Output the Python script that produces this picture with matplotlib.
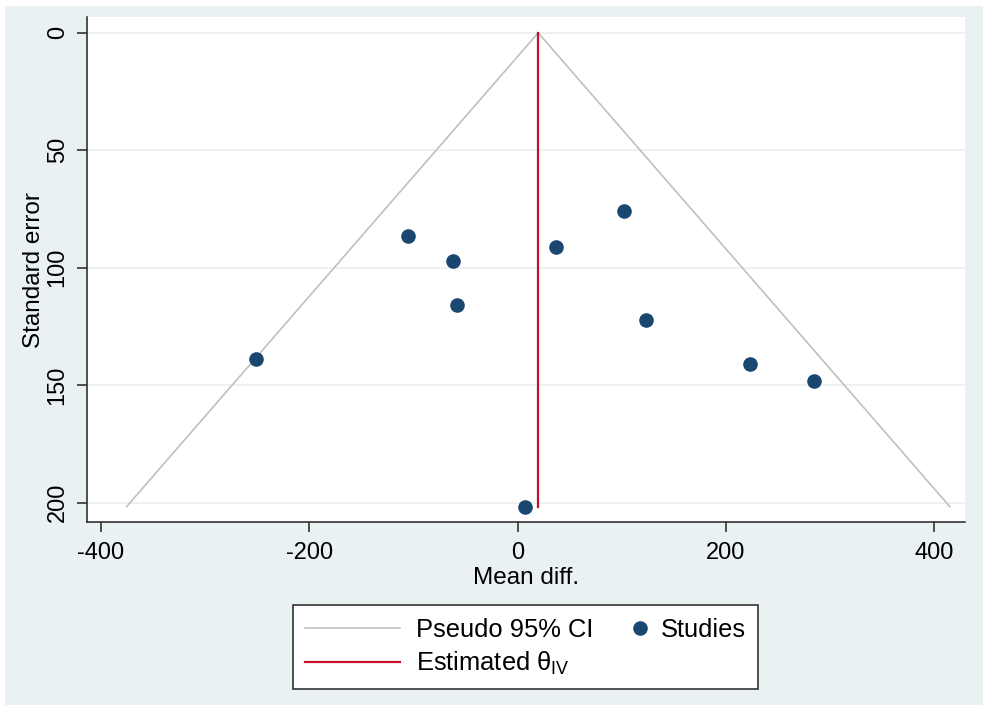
import matplotlib
matplotlib.use("Agg")
import matplotlib.pyplot as plt
from matplotlib.lines import Line2D
from matplotlib.patches import Rectangle
from matplotlib.legend_handler import HandlerBase

# ---- data ----
mean_diff = [-105.0, -61.8, -58.6, -251.2, 36.5, 102.3, 122.9, 223.0, 284.7, 7.4]
std_err = [86.4, 96.9, 116.0, 138.6, 91.1, 75.7, 122.0, 141.1, 148.2, 201.6]
theta_iv = 19.8
x_ticks = [-400, -200, 0, 200, 400]
y_ticks = [0, 50, 100, 150, 200]

plt.rcParams['font.family'] = ['Liberation Sans', 'DejaVu Sans']
plt.rcParams['mathtext.fontset'] = 'custom'
plt.rcParams['mathtext.rm'] = 'Liberation Sans'
plt.rcParams['mathtext.it'] = 'Liberation Sans:italic'

BG = '#EAF1F3'
NAVY = '#1A476F'
RED = '#C8102E'
GREY = '#C0C0C0'

fig = plt.figure(figsize=(9.86, 7.05), dpi=100, facecolor='white')
fig.patches.append(Rectangle((5 / 986, 0), (983 - 5) / 986, 1 - 6 / 705,
                             transform=fig.transFigure, facecolor=BG,
                             edgecolor='none', zorder=-10))

ax = fig.add_axes([86.7 / 986, 1 - 522.3 / 705, (965 - 86.7) / 986, (522.3 - 17.3) / 705])
ax.set_facecolor('white')

max_se = max(std_err)
z = 1.96
ax.plot([theta_iv - z * max_se, theta_iv, theta_iv + z * max_se], [max_se, 0, max_se],
        color=GREY, lw=1.2, zorder=2)
ax.plot([theta_iv, theta_iv], [0, max_se], color=RED, lw=1.6, zorder=3)
ax.plot(mean_diff, std_err, 'o', color=NAVY, markersize=10.5, markeredgewidth=0, zorder=4)

ax.set_xlim(-413.7, 429.6)
ax.set_ylim(208.3, -6.6)
ax.set_xticks(x_ticks)
ax.set_yticks(y_ticks)
ax.set_xticklabels([str(v) for v in x_ticks])
ax.set_yticklabels([str(v) for v in y_ticks], rotation=90, va='center')
ax.yaxis.grid(True, color=BG, lw=1.3, zorder=0)
ax.set_axisbelow(True)

for s in ['top', 'right']:
    ax.spines[s].set_visible(False)
for s in ['left', 'bottom']:
    ax.spines[s].set_color('#222222')
    ax.spines[s].set_linewidth(1.1)
ax.tick_params(axis='both', length=7, width=1.1, color='#222222', labelsize=17, labelcolor='black')
ax.tick_params(axis='y', pad=6)
ax.tick_params(axis='x', pad=7)

ax.set_xlabel('Mean diff.', fontsize=17.5, labelpad=2)
ax.set_ylabel('Standard error', fontsize=17.5, labelpad=1)


class MarkerRight(HandlerBase):
    def create_artists(self, legend, orig_handle, xdescent, ydescent, width, height, fontsize, trans):
        m = Line2D([-xdescent + width * 0.95], [-ydescent + height / 2], marker='o',
                   color=NAVY, markersize=10.5, markeredgewidth=0, linestyle='none')
        m.set_transform(trans)
        return [m]


h_ci = Line2D([], [], color=GREY, lw=1.2)
h_est = Line2D([], [], color=RED, lw=1.6)
h_st = Line2D([], [], marker='o', color=NAVY, linestyle='none')
h_blank = Line2D([], [], alpha=0)

leg = fig.legend([h_ci, h_est, h_st, h_blank],
                 ['Pseudo 95% CI', r'Estimated θ$_{\mathrm{IV}}$', 'Studies', ''],
                 ncol=2, loc='upper center', bbox_to_anchor=(525.5 / 986, 1 - 605 / 705),
                 fontsize=18.4, frameon=True, fancybox=False, shadow=False,
                 edgecolor='#222222', facecolor='white', framealpha=1,
                 handlelength=3.7, handletextpad=0.63, columnspacing=-1.7,
                 borderpad=0.5, labelspacing=0.3, borderaxespad=0,
                 handler_map={h_st: MarkerRight()})
leg.get_frame().set_linewidth(1.1)

fig.savefig('out.png', dpi=100, facecolor=fig.get_facecolor())
